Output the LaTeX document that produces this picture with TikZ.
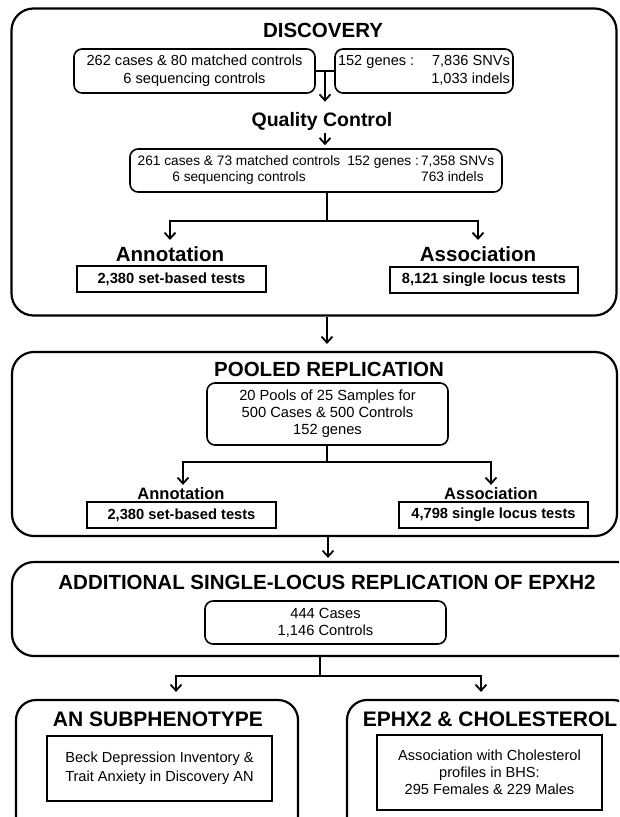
\documentclass[tikz,border=0pt]{standalone}
\usepackage{fontspec}
\setmainfont{Liberation Sans}
\usetikzlibrary{arrows.meta,calc}
\begin{document}
\begin{tikzpicture}[x=1pt,y=-1pt,
  outer/.style={draw, line width=2.2pt, rounded corners=22pt, inner sep=0pt},
  rbox/.style={draw, line width=1.6pt, rounded corners=8pt, align=center, inner sep=0pt, font=\fontsize{14.6}{18}\selectfont},
  sbox/.style={draw, line width=2pt, align=center, inner sep=0pt, font=\fontsize{14.6}{17}\selectfont},
  testbox/.style={draw, line width=2pt, inner sep=0pt, font=\bfseries\fontsize{14.7}{17}\selectfont},
  title/.style={inner sep=0pt, anchor=base, font=\bfseries\fontsize{20.5}{24}\selectfont},
  arr/.style={line width=1.8pt, -{Straight Barb[length=6pt,width=11pt]}},
  ln/.style={line width=1.8pt}]
\useasboundingbox (0,0) rectangle (619,817);
\clip (0,0) rectangle (619,817);

% ---------------- DISCOVERY ----------------
\node[outer, minimum width=605pt, minimum height=307pt] (disc) at (314,162) {};
\node[title] (tdisc) at (323,37) {DISCOVERY};
\node[rbox, minimum width=241pt, minimum height=44pt] (b1) at (194.5,71)
  {262 cases \& 80 matched controls\\6 sequencing controls};
\node[rbox, minimum width=178pt, minimum height=44pt] (b2) at (424,71)
  {\begin{tabular*}{172pt}{@{}l@{\extracolsep{\fill}}r@{}}152 genes :& 7,836 SNVs\\ & 1,033 indels\end{tabular*}};
\node[title, font=\bfseries\fontsize{19.5}{23}\selectfont] (qc) at (322,126) {Quality Control};
\node[rbox, minimum width=372pt, minimum height=43pt, font=\fontsize{13.7}{15.5}\selectfont] (b3) at (316,170.5)
  {\begin{tabular}{@{}c@{\hspace{7pt}}l@{\,}l@{}}261 cases \& 73 matched controls & 152 genes : & 7,358 SNVs\\ 6 sequencing controls & & 763 indels\end{tabular}};
\node[title] (ann1) at (170,261) {Annotation};
\node[title] (ass1) at (478,261) {Association};
\node[testbox, minimum width=189pt, minimum height=26pt] (t1) at (171.5,279) {2,380 set-based tests};
\node[testbox, minimum width=188pt, minimum height=26pt] (t2) at (484,279.5) {8,121 single locus tests};

\coordinate (j1) at ($(b1.east)!0.5!(b2.west)$);
\coordinate (c1) at (327,221);
\draw[ln] (b1.east) -- (b2.west);
\draw[arr, shorten >=10pt] (j1) -- (j1 |- qc.north);
\draw[arr, shorten <=3pt, shorten >=3pt] (qc.south -| j1) -- (b3.north -| j1);
\draw[ln] (b3.south -| c1) -- (c1);
\draw[arr, shorten >=6pt] (c1) -| (ann1.north);
\draw[arr, shorten >=6pt] (c1) -| (ass1.north);

% ---------------- POOLED REPLICATION ----------------
\node[outer, minimum width=605pt, minimum height=184pt] (pool) at (314.5,444) {};
\draw[arr, shorten >=7pt] (disc.south -| c1) -- (pool.north -| c1);
\node[title] (tpool) at (329,376) {POOLED REPLICATION};
\node[rbox, minimum width=241pt, minimum height=62pt, font=\fontsize{14.7}{17}\selectfont] (pb) at (327.5,414)
  {20 Pools of 25 Samples for\\500 Cases \& 500 Controls\\152 genes};
\coordinate (c2) at (327,462);
\node[title, font=\bfseries\fontsize{16.5}{20}\selectfont] (ann2) at (181,499) {Annotation};
\node[title, font=\bfseries\fontsize{16.5}{20}\selectfont] (ass2) at (491,499) {Association};
\node[testbox, minimum width=189pt, minimum height=26pt] (pt1) at (181.5,515) {2,380 set-based tests};
\node[testbox, minimum width=189pt, minimum height=26pt] (pt2) at (493.5,515) {4,798 single locus tests};
\draw[ln] (pb.south -| c2) -- (c2);
\draw[arr, shorten >=2pt] (c2) -| ($(ann2.north)+(2,0)$);
\draw[arr, shorten >=2pt] (c2) -| (ass2.north);

% ---------------- ADDITIONAL ----------------
\node[outer, minimum width=628pt, minimum height=94pt] (add) at (326,609) {};
\coordinate (c3) at (328,0);
\draw[arr, shorten >=3pt] (pool.south -| c3) -- (add.north -| c3);
\node[title] (tadd) at (327,589) {ADDITIONAL SINGLE-LOCUS REPLICATION OF EPXH2};
\node[rbox, minimum width=241pt, minimum height=43pt, font=\fontsize{14.7}{17}\selectfont] (ab) at (325.5,622.5)
  {444 Cases\\1,146 Controls};

% ---------------- BOTTOM ----------------
\node[outer, rounded corners=20pt, minimum width=282pt, minimum height=140pt] (an) at (157,770) {};
\node[outer, rounded corners=20pt, minimum width=286pt, minimum height=140pt] (ep) at (490,770) {};
\node[title, font=\bfseries\fontsize{21}{25}\selectfont] (tan) at (158,726) {AN SUBPHENOTYPE};
\node[title, font=\bfseries\fontsize{21}{25}\selectfont] (tep) at (490,726) {EPHX2 \& CHOLESTEROL};
\node[sbox, minimum width=225pt, minimum height=65pt, font=\fontsize{14.6}{19}\selectfont] (anb) at (159.5,768.5)
  {Beck Depression Inventory \&\\Trait Anxiety in Discovery AN};
\node[sbox, minimum width=225pt, minimum height=75pt] (epb) at (489.5,772.5)
  {Association with Cholesterol\\profiles in BHS:\\295 Females \& 229 Males};
\coordinate (c4) at (320,676);
\draw[ln] (add.south -| c4) -- (c4);
\draw[arr, shorten >=7pt] (c4) -| ($(an.north)+(19,0)$);
\draw[arr, shorten >=7pt] (c4) -| ($(ep.north)+(-9,0)$);
\end{tikzpicture}
\end{document}
